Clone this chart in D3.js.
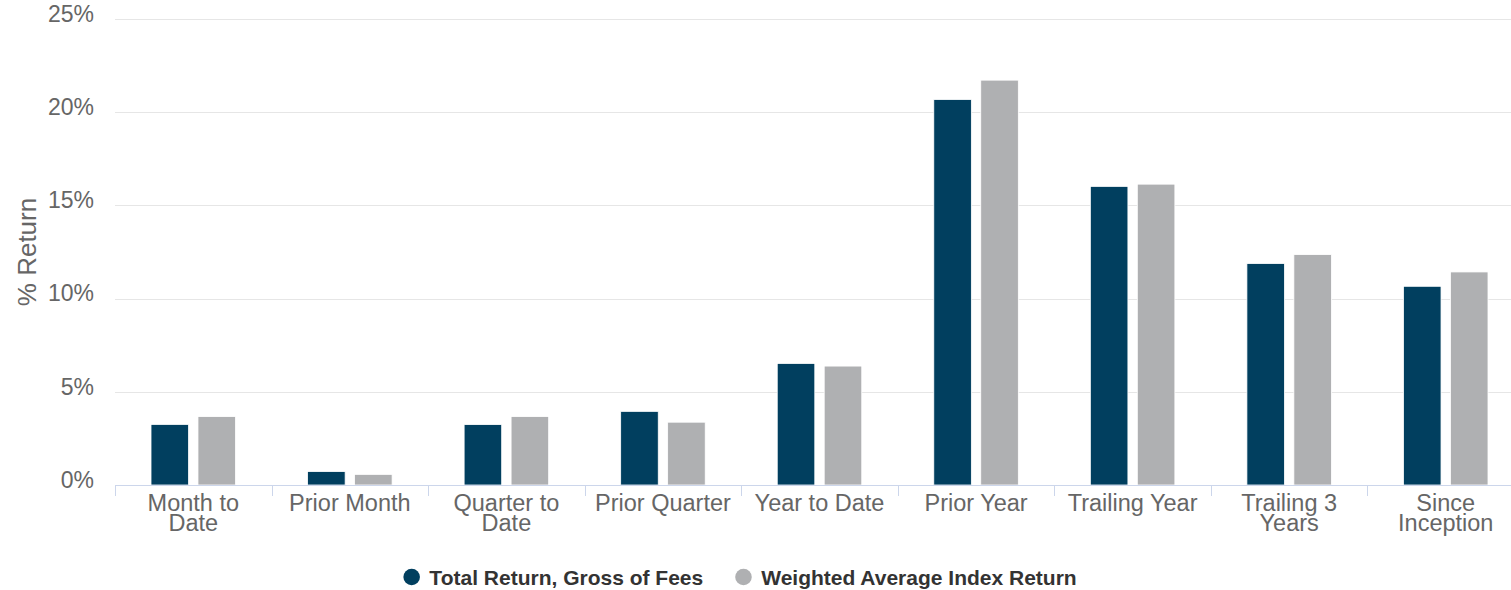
<!DOCTYPE html>
<html>
<head>
<meta charset="utf-8">
<script src="https://cdn.jsdelivr.net/npm/d3@7"></script>
<style>
  body { margin: 0; background: #fff; }
  svg { display: block; font-family: "Liberation Sans", Arial, sans-serif; }
</style>
</head>
<body>
<script>
const categories = ["Month to Date", "Prior Month", "Quarter to Date", "Prior Quarter",
  "Year to Date", "Prior Year", "Trailing Year", "Trailing 3 Years", "Since Inception"];
const seriesNames = ["Total Return, Gross of Fees", "Weighted Average Index Return"];
const totalReturn = [3.25, 0.72, 3.24, 3.95, 6.52, 20.68, 16.02, 11.88, 10.66];
const indexReturn = [3.67, 0.57, 3.67, 3.37, 6.38, 21.72, 16.14, 12.36, 11.43];
const yTicks = [0, 5, 10, 15, 20, 25];
const colors = ["#013f5f", "#afb0b2"];

const width = 1511, height = 590;
const margin = { left: 115, right: -13, top: 19, bottom: 105 };

const svg = d3.select("body").append("svg")
  .attr("width", width)
  .attr("height", height);

const x0 = d3.scaleBand()
  .domain(categories)
  .range([margin.left, width - margin.right]);

// highcharts-like grouping: groupPadding 0.2, pointPadding 0.1
const x1 = d3.scaleBand()
  .domain(seriesNames)
  .range([x0.bandwidth() * 0.2, x0.bandwidth() * 0.8])
  .paddingInner(0.2)
  .paddingOuter(0.1);

const y = d3.scaleLinear()
  .domain([0, 25])
  .range([height - margin.bottom, margin.top]);

// gridlines + y labels
const yAxis = svg.append("g")
  .attr("transform", `translate(${margin.left},0)`)
  .call(d3.axisLeft(y).tickValues(yTicks).tickSize(-(width - margin.left)).tickFormat(d => d + "%"));
yAxis.select(".domain").remove();
yAxis.selectAll(".tick line").attr("stroke", "#e6e6e6").attr("shape-rendering", "crispEdges");
yAxis.selectAll(".tick text")
  .attr("x", -21)
  .attr("dy", "0.1em")
  .attr("fill", "#666")
  .style("font-size", "23px")
  .style("font-family", "Liberation Sans, Arial, sans-serif");

// y title
svg.append("text")
  .attr("transform", `translate(36,${(y(0) + y(25)) / 2}) rotate(-90)`)
  .attr("text-anchor", "middle")
  .attr("fill", "#666")
  .style("font-size", "26px")
  .text("% Return");

// bars
const rows = categories.map((c, i) => ({ cat: c, values: [totalReturn[i], indexReturn[i]] }));
svg.append("g")
  .selectAll("g")
  .data(rows)
  .join("g")
  .attr("transform", d => `translate(${x0(d.cat)},0)`)
  .selectAll("rect")
  .data(d => d.values.map((v, j) => ({ name: seriesNames[j], value: v, j })))
  .join("rect")
  .attr("x", d => x1(d.name))
  .attr("y", d => y(d.value))
  .attr("width", x1.bandwidth())
  .attr("height", d => y(0) - y(d.value))
  .attr("fill", d => colors[d.j])
  .attr("stroke", "#fff")
  .attr("stroke-width", 0.8);

// x axis
const xAxis = svg.append("g")
  .attr("transform", `translate(0,${y(0)})`)
  .call(d3.axisBottom(x0).tickSize(0).tickPadding(0));
xAxis.select(".domain").attr("stroke", "#ccd6eb");
xAxis.selectAll(".tick text")
  .attr("fill", "#666")
  .style("font-size", "23.5px")
  .style("font-family", "Liberation Sans, Arial, sans-serif")
  .attr("y", 0)
  .attr("dy", 0)
  .each(function (d) { wrap(d3.select(this), d, 140); });

// tick marks between categories
svg.append("g")
  .selectAll("line")
  .data(categories)
  .join("line")
  .attr("x1", d => Math.round(x0(d)) + 0.5)
  .attr("x2", d => Math.round(x0(d)) + 0.5)
  .attr("y1", y(0))
  .attr("y2", y(0) + 11)
  .attr("stroke", "#ccd6eb");

function wrap(text, label, maxW) {
  const words = label.split(" ");
  text.text(null);
  let line = [];
  const lines = [];
  let tspan = text.append("tspan").attr("x", 0);
  words.forEach(w => {
    line.push(w);
    tspan.text(line.join(" "));
    if (tspan.node().getComputedTextLength() > maxW && line.length > 1) {
      line.pop();
      lines.push(line.join(" "));
      line = [w];
      tspan.text(w);
    }
  });
  lines.push(line.join(" "));
  text.text(null);
  lines.forEach((l, i) => {
    text.append("tspan").attr("x", 0).attr("y", 26 + i * 19.5).text(l);
  });
}

// legend
const legend = svg.append("g").attr("transform", `translate(0,577)`);
const items = legend.selectAll("g")
  .data(seriesNames)
  .join("g");
items.append("circle")
  .attr("r", 8.3)
  .attr("cx", 8.3)
  .attr("fill", (d, i) => colors[i]);
items.append("text")
  .attr("x", 26)
  .attr("dy", "0.36em")
  .attr("fill", "#333")
  .style("font-size", "21px")
  .style("font-weight", "bold")
  .text(d => d);
let offsets = [], cursor = 0;
items.each(function () {
  offsets.push(cursor);
  cursor += this.getBBox().width + 32;
});
const total = cursor - 32;
const startX = 740 - total / 2;
items.attr("transform", (d, i) => `translate(${startX + offsets[i]},0)`);
</script>
</body>
</html>
